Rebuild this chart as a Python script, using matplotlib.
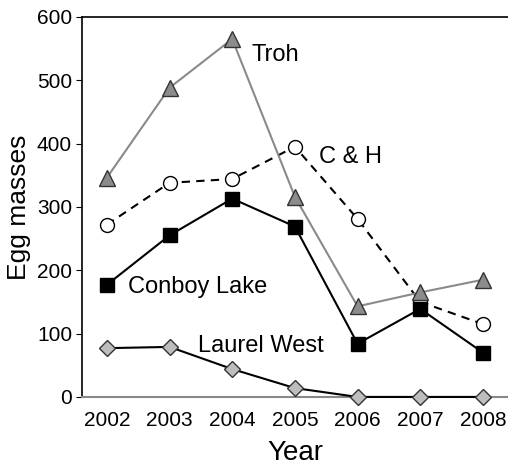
import numpy as np
import matplotlib.pyplot as plt

plt.rcParams.update({'font.size': 15, 'font.family': ['Liberation Sans', 'DejaVu Sans']})

years = [2002, 2003, 2004, 2005, 2006, 2007, 2008]
troh = [346, 488, 565, 316, 143, 165, 185]
c_and_h = [272, 338, 344, 395, 281, 150, 115]
conboy = [177, 255, 313, 269, 84, 139, 70]
laurel = [77, 79, 44, 14, 0, 0, 0]

fig = plt.figure(figsize=(5.08, 4.67), dpi=100)
ax = fig.add_axes([0.161, 0.150, 0.839, 0.814])

# dashed line with open circles
ax.plot(years, c_and_h, color='black', ls=(0, (4, 3)), lw=1.5, marker='o', ms=10,
        mfc='white', mec='black', mew=1.0, clip_on=False, zorder=3)
ax.plot(years, laurel, color='black', lw=1.5, marker='D', ms=8.5,
        mfc='#bdbdbd', mec='#333333', mew=1.0, clip_on=False, zorder=3)
ax.plot(years, conboy, color='black', lw=1.5, marker='s', ms=10,
        mfc='black', mec='black', clip_on=False, zorder=4)
ax.plot(years, troh, color='#8a8a8a', lw=1.5, marker='^', ms=11,
        mfc='#8c8c8c', mec='#333333', mew=1.0, clip_on=False, zorder=5)

ax.text(2004.31, 540, 'Troh', fontsize=17, va='center')
ax.text(2005.38, 378, 'C & H', fontsize=17, va='center')
ax.text(2002.33, 174, 'Conboy Lake', fontsize=17, va='center')
ax.text(2003.46, 80, 'Laurel West', fontsize=17, va='center')

ax.set_xlim(2001.6, 2008.4)
ax.set_ylim(0, 600)
ax.set_xticks(years)
ax.set_yticks(np.arange(0, 601, 100))
ax.tick_params(axis='x', length=0, pad=10)
ax.tick_params(axis='y', length=4, direction='out', pad=3)

ax.spines['right'].set_visible(False)
ax.spines['bottom'].set_color('#888888')
ax.spines['bottom'].set_linewidth(1.5)
ax.spines['left'].set_linewidth(1.2)
ax.spines['top'].set_linewidth(1.2)

ax.set_xlabel('Year', fontsize=20, labelpad=7)
ax.set_ylabel('Egg masses', fontsize=19, labelpad=4)

fig.savefig('out.png', dpi=100)
